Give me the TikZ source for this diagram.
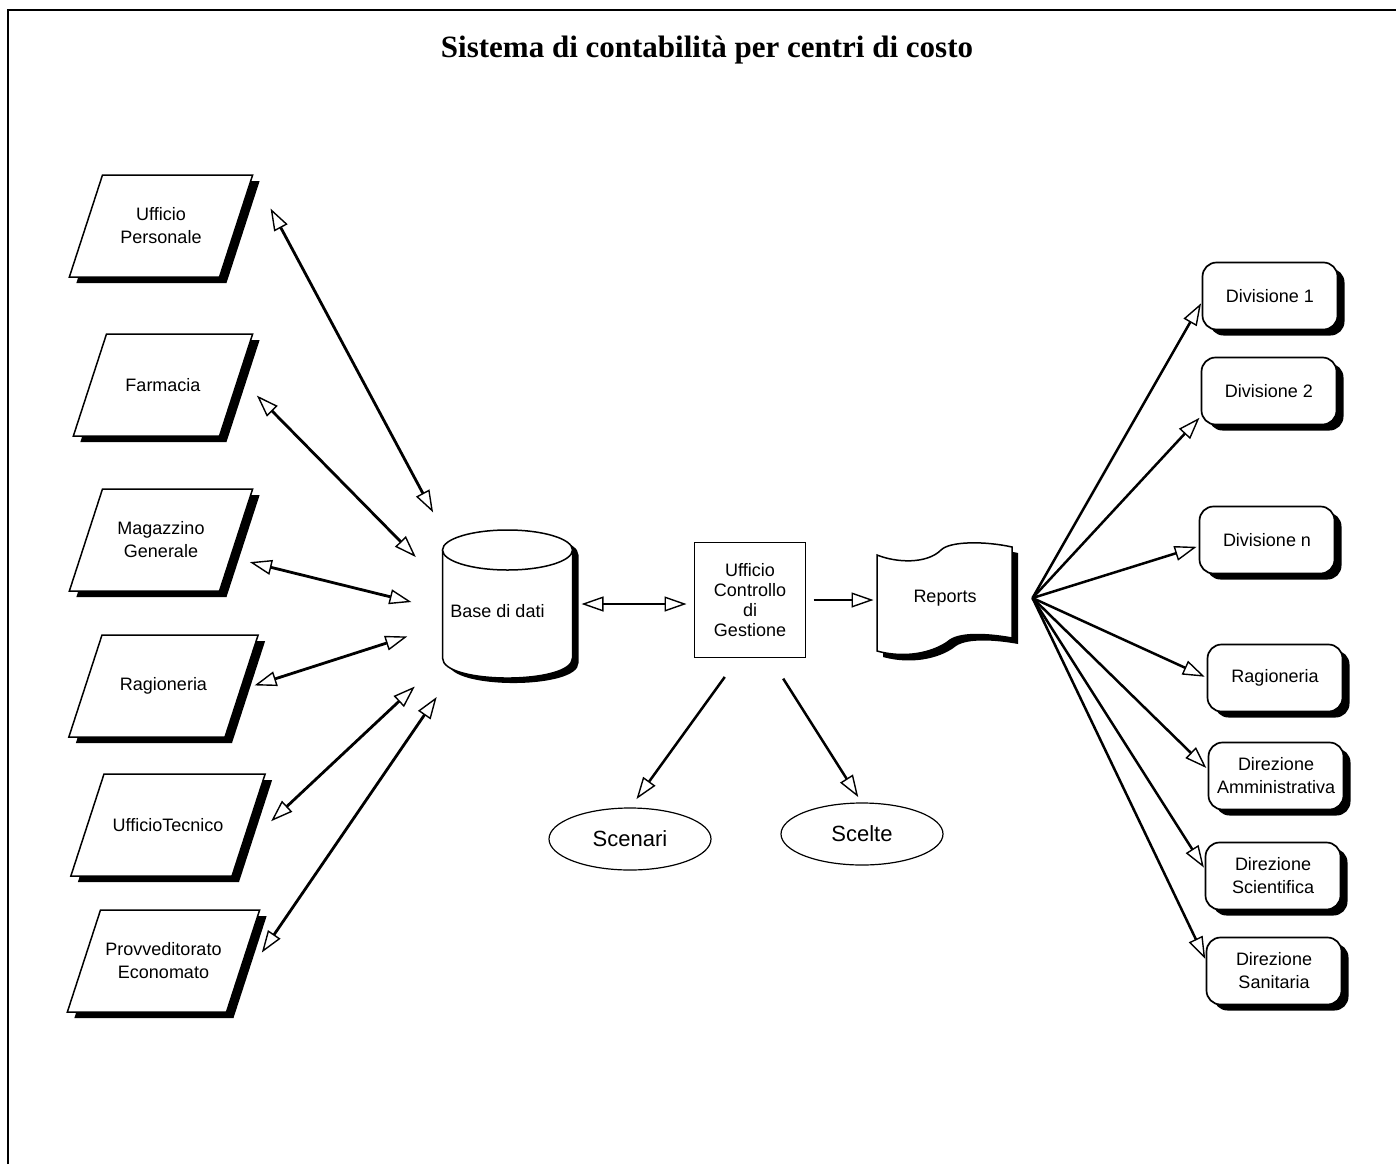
\documentclass[tikz,border=0pt]{standalone}
\usepackage{fontspec}
\setmainfont{Liberation Sans}
\newfontfamily\titlefont{Liberation Serif}
\usetikzlibrary{positioning, calc}
\usetikzlibrary{shapes.geometric, shadows, arrows.meta, backgrounds}

\begin{document}
\begin{tikzpicture}[x=1pt, y=-1pt,
    txt/.style={font=\fontsize{18}{23}\selectfont, align=center},
    shad/.style={drop shadow={shadow xshift=7pt, shadow yshift=-6pt, opacity=1, fill=black}},
    office/.style={shape=trapezium, trapezium left angle=72, trapezium right angle=108,
        inner xsep=58.5pt, inner ysep=51pt, draw, line width=1.5pt, fill=white, outer sep=0pt, shad},
    unit/.style={txt, rectangle, rounded corners=14pt, minimum width=135pt, minimum height=67pt,
        draw, line width=1.7pt, fill=white, outer sep=0pt, shad},
    oval/.style={ellipse, draw, line width=1.2pt, font=\fontsize{22}{26}\selectfont,
        minimum width=162pt, minimum height=62pt, outer sep=0pt},
    link/.style={line width=2.5pt, -{Triangle[open, length=22pt, width=15pt, line width=1.4pt]}},
    both/.style={line width=2.8pt, {Triangle[open, length=22pt, width=15pt, line width=1.4pt]}-{Triangle[open, length=22pt, width=15pt, line width=1.4pt]}}]

    \useasboundingbox (0,0) rectangle (1396,1164);
    \draw[line width=1.4pt] (8,1164) -- (8,10) -- (1396,10);
    \node[font=\titlefont\bfseries\fontsize{31}{36}\selectfont] (title) at (707,50) {Sistema di contabilità per centri di costo};

    \node[office, label={[txt]center:Ufficio\\Personale}] (up) at (161,226) {};
    \node[office, inner xsep=56.5pt, label={[txt]center:Farmacia}] (far) at (163,385) {};
    \node[office, label={[txt]center:Magazzino\\Generale}] (mag) at (161,540) {};
    \node[office, inner xsep=61.5pt, label={[txt]center:Ragioneria}] (rag) at (163.5,686) {};
    \node[office, inner xsep=64pt, label={[txt]center:UfficioTecnico}] (tec) at (168,825) {};
    \node[office, inner xsep=63pt, label={[txt]center:Provveditorato\\Economato}] (prov) at (163.5,961) {};

    \node[minimum width=130pt, minimum height=148pt, outer sep=0pt,
        label={[txt, xshift=-10pt, yshift=-7pt]center:Base di dati}] (base) at (507.5,604) {};
    \begin{scope}[on background layer, shift={(base.center)}]
        \fill[black, shift={(6,5)}] (-65,-54) .. controls (-65,-80.7) and (65,-80.7) .. (65,-54) -- (65,54)
            .. controls (65,80.7) and (-65,80.7) .. (-65,54) -- cycle;
        \filldraw[fill=white, line width=1.5pt] (-65,-54) -- (-65,54) .. controls (-65,80.7) and (65,80.7) .. (65,54) -- (65,-54);
        \filldraw[fill=white, line width=1.5pt] (0,-54) ellipse [x radius=65, y radius=20];
    \end{scope}

    \node[txt, draw, line width=1.2pt, minimum width=111pt, minimum height=115pt, outer sep=0pt,
        font=\fontsize{18}{20}\selectfont] (ucg) at (750,600) {Ufficio\\Controllo\\di\\Gestione};

    \node[txt, minimum width=135pt, minimum height=100pt, outer sep=0pt] (rep) at (945,598) {Reports};
    \begin{scope}[on background layer, shift={(rep.center)}]
        \fill[black, shift={(6,6)}] (-68,-43) .. controls (-48,-35) and (-18,-34) .. (-4,-48)
            .. controls (5,-57) and (40,-57) .. (67,-51) -- (67,40)
            .. controls (45,36) and (17,34) .. (5,42) .. controls (-7,52) and (-35,62) .. (-68,53) -- cycle;
        \filldraw[fill=white, line width=1.5pt] (-68,-43) .. controls (-48,-35) and (-18,-34) .. (-4,-48)
            .. controls (5,-57) and (40,-57) .. (67,-51) -- (67,40)
            .. controls (45,36) and (17,34) .. (5,42) .. controls (-7,52) and (-35,62) .. (-68,53) -- cycle;
    \end{scope}

    \node[oval] (scen) at (630,839) {Scenari};
    \node[oval] (scel) at (862,834) {Scelte};

    \node[unit] (d1) at (1270,296) {Divisione 1};
    \node[unit] (d2) at (1269,391) {Divisione 2};
    \node[unit] (dn) at (1267,540) {Divisione n};
    \node[unit] (rg) at (1275,678) {Ragioneria};
    \node[unit] (dam) at (1276,776) {Direzione\\Amministrativa};
    \node[unit] (dsc) at (1273,876) {Direzione\\Scientifica};
    \node[unit] (dsa) at (1274,971) {Direzione\\Sanitaria};

    \draw[both, shorten <=38pt, shorten >=20pt] (up.top right corner) -- (base.north west);
    \draw[both, shorten <=26pt, shorten >=38pt] (far.6) -- (base.163);
    \draw[both, shorten <=20pt, shorten >=32pt] (mag.-14) -- (base.185);
    \draw[both, shorten <=15pt, shorten >=37pt] (rag.-3) -- (base.198);
    \draw[both, shorten <=42pt, shorten >=38pt] (tec.-19) -- (base.221);
    \draw[both, shorten <=54pt, shorten >=23pt] (prov.-28) -- (base.232);

    \draw[both, shorten <=9pt, shorten >=8pt] (base.east) -- (base.east -| ucg.west);
    \draw[link, line width=2.8pt, shorten <=8pt, shorten >=4pt] (ucg.east) -- (ucg.east -| rep.west);
    \draw[link, shorten <=24pt, shorten >=11pt] (ucg.259) -- (scen.north);
    \draw[link, shorten <=25pt, shorten >=7pt] (ucg.289) -- (scel.north);

    \coordinate[right=20pt of rep.east] (fan);
    \foreach \t/\a in {d1/184, d2/200, dn/185, rg/west, dam/175, dsc/175, dsa/172}
        \draw[link, shorten >=3pt] (fan) -- (\t.\a);
\end{tikzpicture}
\end{document}
